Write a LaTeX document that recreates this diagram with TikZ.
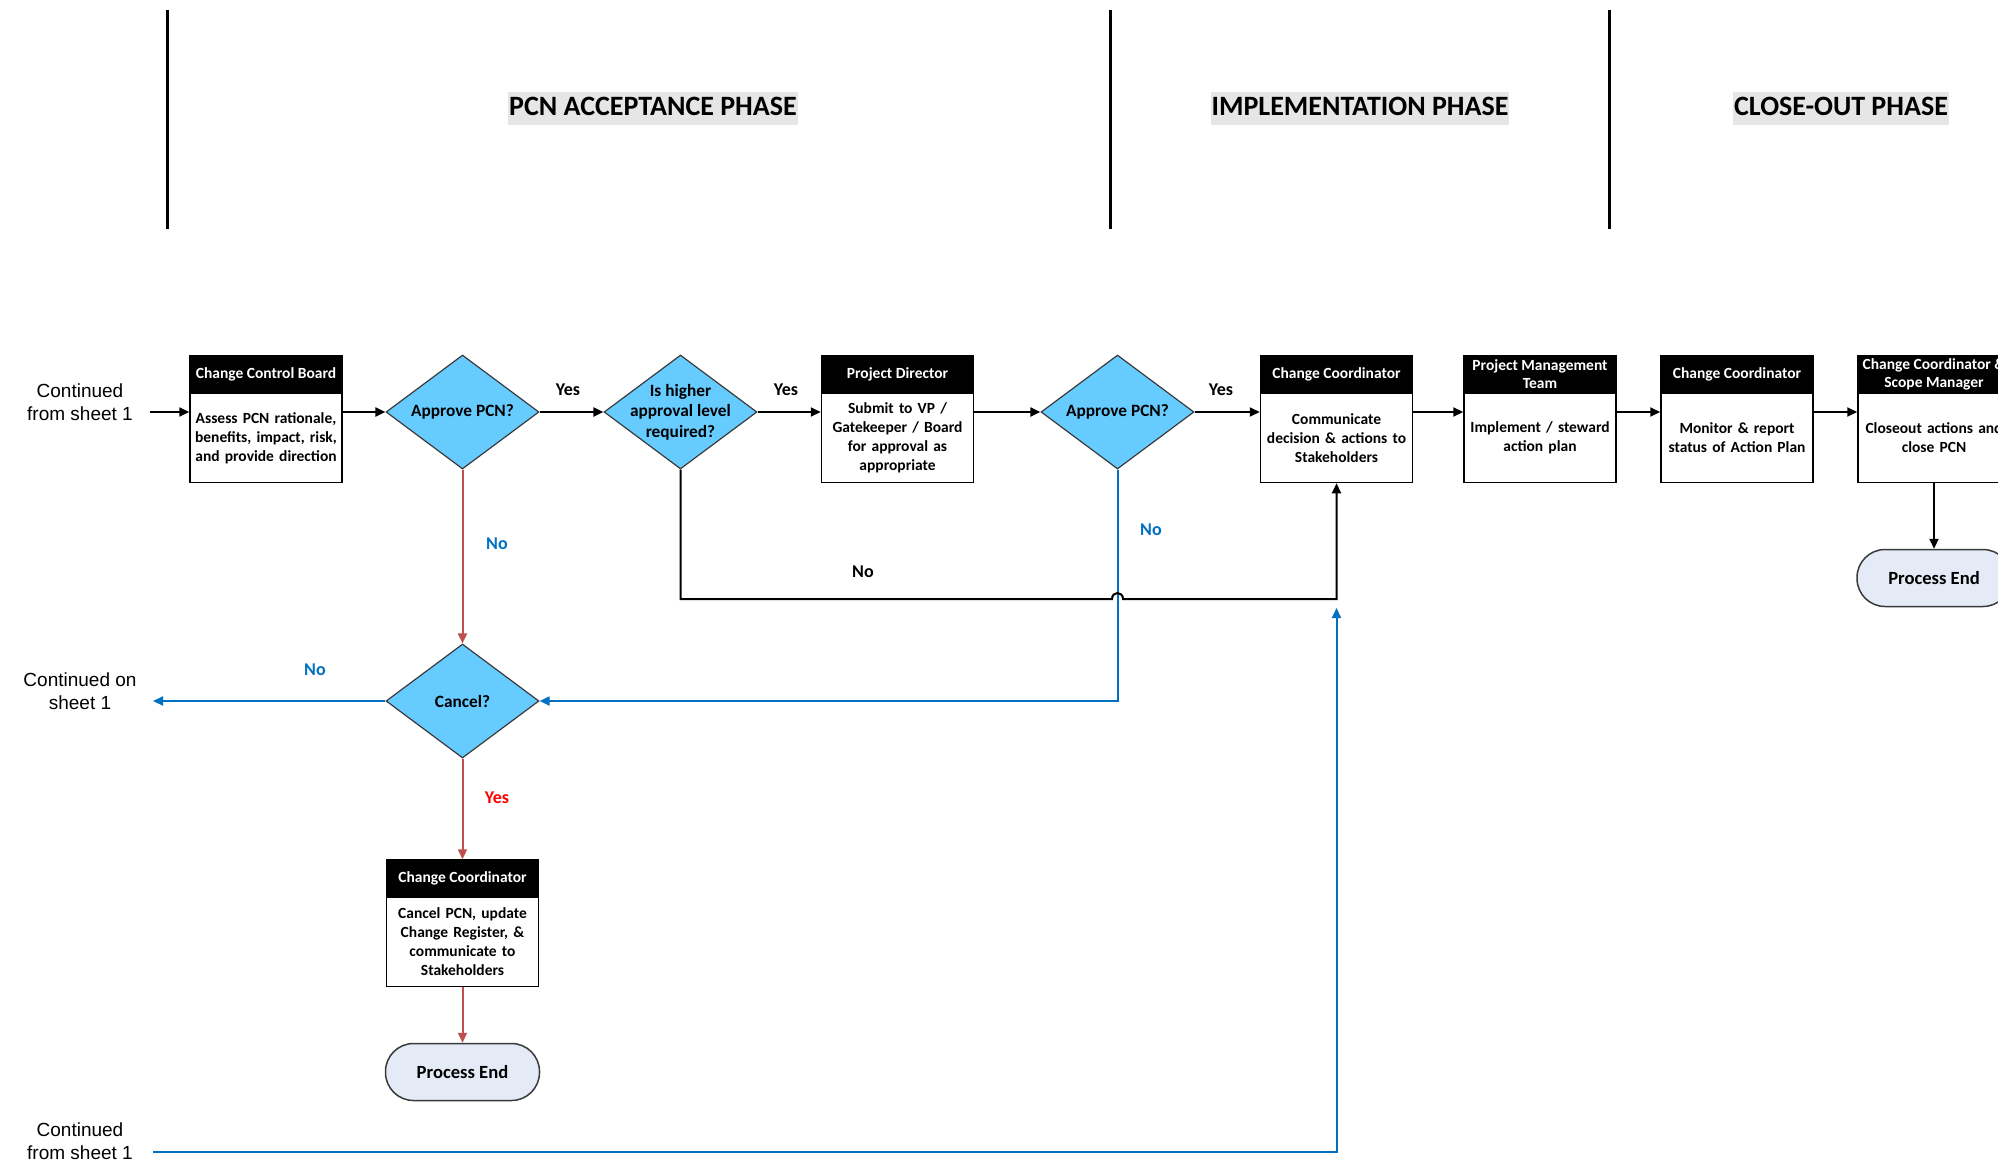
\documentclass[tikz,border=0pt]{standalone}
\usepackage{fontspec}
\setmainfont{Carlito}
\newfontfamily\arialfont{Liberation Sans}
\usetikzlibrary{shapes.geometric,arrows.meta}

\definecolor{decfill}{HTML}{66CCFF}
\definecolor{noblue}{HTML}{0070C0}
\definecolor{cxred}{HTML}{C0504D}
\definecolor{yesred}{HTML}{FF0000}
\definecolor{endfill}{HTML}{E4EBF7}
\definecolor{phasegray}{HTML}{E6E6E6}
\definecolor{edgegray}{HTML}{3A3A3A}

\tikzset{
  bodybox/.style={draw=black, line width=1.5pt, fill=white, minimum width=152pt,
    minimum height=89pt, inner sep=2pt, align=center, text width=146pt,
    font=\fontsize{15.5}{19}\selectfont\bfseries},
  hdrbox/.style={draw=black, line width=1.5pt, fill=black, text=white, minimum width=152pt,
    minimum height=36pt, inner sep=1pt, align=center, anchor=south,
    font=\fontsize{15.5}{18}\selectfont\bfseries},
  decision/.style={diamond, draw=edgegray, line width=1.2pt, fill=decfill,
    minimum width=153pt, minimum height=114pt, inner sep=0pt},
  dectext/.style={align=center, font=\fontsize{17.3}{20.5}\selectfont\bfseries},
  endbox/.style={draw=edgegray, line width=1.5pt, fill=endfill, rounded corners=28pt,
    minimum width=154pt, minimum height=57pt, font=\fontsize{18.6}{22}\selectfont\bfseries},
  phase/.style={fill=phasegray, inner xsep=1pt, inner ysep=3pt, text height=20pt,
    text depth=7pt, font=\fontsize{28}{32}\selectfont\bfseries},
  sheetnote/.style={align=center, font=\arialfont\fontsize{19}{22.5}\selectfont},
  tip/.style={-{Triangle[length=10pt,width=9pt]}},
  flow/.style={draw=black, line width=2pt, tip},
  blueflow/.style={draw=noblue, line width=2pt, tip},
  redflow/.style={draw=cxred, line width=2pt, tip},
  lbl/.style={font=\fontsize{18}{20}\selectfont\bfseries},
  phaseline/.style={draw=black, line width=3pt},
}

\begin{document}
\begin{tikzpicture}[x=1pt, y=-1pt]
\useasboundingbox (0,0) rectangle (1998,1163);
\clip (0,0) rectangle (1998,1163);

% phase separators and titles
\draw[phaseline] (167,10) -- (167,229);
\draw[phaseline] (1110,10) -- (1110,229);
\draw[phaseline] (1609,10) -- (1609,229);
\node[phase] (ph1) at (653,108.5) {PCN ACCEPTANCE PHASE};
\node[phase] (ph2) at (1360,108.5) {IMPLEMENTATION PHASE};
\node[phase] (ph3) at (1841,108.5) {CLOSE-OUT PHASE};

% main row
\node[bodybox] (ccb) at (266,438) {Assess PCN rationale,\\benefits, impact, risk,\\and provide direction};
\node[hdrbox] (ccbh) at (ccb.north) {Change Control Board};

\node[decision] (d1) at (462.5,412) {};
\node[dectext] (d1t) at (d1) {Approve PCN?};

\node[decision] (d2) at (680.5,412) {};
\node[dectext] (d2t) at (d2) {Is higher\\approval level\\required?};

\node[bodybox] (pd) at (897.5,438) {Submit to VP /\\Gatekeeper / Board\\for approval as\\appropriate};
\node[hdrbox] (pdh) at (pd.north) {Project Director};

\node[decision] (d3) at (1117.5,412) {};
\node[dectext] (d3t) at (d3) {Approve PCN?};

\node[bodybox] (cc) at (1336.5,438) {Communicate\\decision \& actions to\\Stakeholders};
\node[hdrbox] (cch) at (cc.north) {Change Coordinator};

\node[bodybox] (pmt) at (1540,438) {Implement / steward\\action plan};
\node[hdrbox] (pmth) at (pmt.north) {Project Management\\Team};

\node[bodybox] (cc2) at (1737,438) {Monitor \& report\\status of Action Plan};
\node[hdrbox] (cc2h) at (cc2.north) {Change Coordinator};

\node[bodybox] (ccsm) at (1934,438) {Closeout actions and\\close PCN};
\node[hdrbox] (ccsmh) at (ccsm.north) {\makebox[148pt]{Change Coordinator \&}\\Scope Manager};

\node[endbox] (end2) at (1934,578) {Process End};

% cancel branch
\node[decision] (cx) at (462.5,701) {};
\node[dectext] (cxt) at (cx) {Cancel?};

\node[bodybox] (cxb) at (462.5,942) {Cancel PCN, update\\Change Register, \&\\communicate to\\Stakeholders};
\node[hdrbox] (cxbh) at (cxb.north) {Change Coordinator};

\node[endbox] (end1) at (462.5,1072) {Process End};

% off-sheet notes
\node[sheetnote] (in1) at (80,402) {Continued\\from sheet 1};
\node[sheetnote] (out1) at (80,691) {Continued on\\sheet 1};
\node[sheetnote] (in2) at (80,1141) {Continued\\from sheet 1};

\coordinate (in1end) at (150,412);
\coordinate (out1end) at (153,701);
\coordinate (in2end) at (153,1152);
\coordinate (in2turn) at (1336.5,1152);
\coordinate (in2tip) at (1336.5,608);
\coordinate (nojoin) at (1336.5,599);

% main flow
\draw[flow] (in1end) -- (in1end -| ccb.west);
\draw[flow] (ccb.east |- d1) -- (d1.west);
\draw[flow] (d1.east) -- (d2.west);
\draw[flow] (d2.east) -- (d2.east -| pd.west);
\draw[flow] (pd.east |- d3) -- (d3.west);
\draw[flow] (d3.east) -- (d3.east -| cc.west);
\draw[flow] (cc.east |- d3) -- (pmt.west |- d3);
\draw[flow] (pmt.east |- d3) -- (cc2.west |- d3);
\draw[flow] (cc2.east |- d3) -- (ccsm.west |- d3);
\draw[flow] (ccsm.south) -- (end2.north);

% rejection and cancel paths
\draw[redflow] (d1.south) -- (cx.north);
\draw[redflow] (cx.south) -- (cxbh.north);
\draw[redflow] (cxb.south) -- (end1.north);
\draw[blueflow] (cx.west) -- (out1end);
\draw[blueflow] (d3.south) -- (d3.south |- cx.east) -- (cx.east);
\draw[blueflow] (in2end) -- (in2turn) -- (in2tip);

% "not required" path, hopping over the blue line
\draw[flow] (d2.south) -- (d2.south |- nojoin) -- (1112,599)
  .. controls (1112,591) and (1123,591) .. (1123,599) -- (nojoin) -- (cc.south);

% branch labels
\node[lbl] (y1) at (568,390) {Yes};
\node[lbl] (y2) at (786,390) {Yes};
\node[lbl] (y3) at (1221,390) {Yes};
\node[lbl, text=noblue] (n1) at (497,544) {No};
\node[lbl, text=noblue] (n3) at (1151,530) {No};
\node[lbl] (n2) at (863,572) {No};
\node[lbl, text=noblue] (n4) at (315,670) {No};
\node[lbl, text=yesred] (y4) at (497,798) {Yes};
\end{tikzpicture}
\end{document}
